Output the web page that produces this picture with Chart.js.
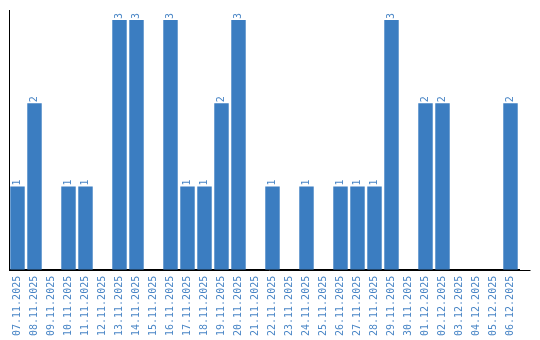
<!DOCTYPE html>
<html>
<head>
<meta charset="utf-8">
<script src="https://cdn.jsdelivr.net/npm/chart.js@4/dist/chart.umd.min.js"></script>
<style>
  html, body { margin: 0; padding: 0; background: #ffffff; }
  #wrap { width: 540px; height: 340px; position: relative; }
</style>
</head>
<body>
<div id="wrap"><canvas id="c"></canvas></div>
<script>
const categories = [
  "07.11.2025","08.11.2025","09.11.2025","10.11.2025","11.11.2025","12.11.2025",
  "13.11.2025","14.11.2025","15.11.2025","16.11.2025","17.11.2025","18.11.2025",
  "19.11.2025","20.11.2025","21.11.2025","22.11.2025","23.11.2025","24.11.2025",
  "25.11.2025","26.11.2025","27.11.2025","28.11.2025","29.11.2025","30.11.2025",
  "01.12.2025","02.12.2025","03.12.2025","04.12.2025","05.12.2025","06.12.2025"
];
const counts = [1,2,0,1,1,0,3,3,0,3,1,1,2,3,0,1,0,1,0,1,1,1,3,0,2,2,0,0,0,2];
const yMax = 3.12;

const BLUE = '#3b7dc1';
const LABEL_BLUE = '#4a86c6';
const FONT = '"DejaVu Sans Mono", monospace';

const valueLabels = {
  id: 'valueLabels',
  afterDatasetsDraw(chart) {
    const ctx = chart.ctx;
    const meta = chart.getDatasetMeta(0);
    ctx.save();
    ctx.fillStyle = LABEL_BLUE;
    ctx.font = '10px ' + FONT;
    ctx.textAlign = 'left';
    ctx.textBaseline = 'middle';
    meta.data.forEach((bar, i) => {
      const v = counts[i];
      if (!v) return;
      ctx.save();
      ctx.translate(bar.x, bar.y - 1);
      ctx.rotate(-Math.PI / 2);
      ctx.fillText(String(v), 0, 0);
      ctx.restore();
    });
    ctx.restore();
  },
  afterDraw(chart) {
    const ctx = chart.ctx;
    const a = chart.chartArea;
    ctx.save();
    ctx.strokeStyle = '#000000';
    ctx.lineWidth = 1;
    ctx.beginPath();
    const y = Math.round(a.bottom) + 0.5;
    ctx.moveTo(a.left, y);
    ctx.lineTo(chart.width - 9.5, y);
    ctx.stroke();
    ctx.restore();
  }
};

new Chart(document.getElementById('c'), {
  type: 'bar',
  data: {
    labels: categories,
    datasets: [{
      data: counts,
      backgroundColor: BLUE,
      borderWidth: 0,
      barPercentage: 0.85,
      categoryPercentage: 1.0
    }]
  },
  options: {
    responsive: true,
    maintainAspectRatio: false,
    animation: false,
    layout: { padding: { left: 9, right: 21, top: 10, bottom: -2 } },
    plugins: { legend: { display: false }, tooltip: { enabled: false } },
    scales: {
      x: {
        grid: { display: false, drawTicks: false },
        border: { display: true, color: '#000000', width: 1 },
        ticks: {
          autoSkip: false,
          maxRotation: 90,
          minRotation: 90,
          padding: 6,
          color: LABEL_BLUE,
          font: { family: FONT, size: 10 }
        }
      },
      y: {
        min: 0,
        max: yMax,
        grid: { display: false, drawTicks: false },
        border: { display: true, color: '#000000', width: 1 },
        ticks: { display: false }
      }
    }
  },
  plugins: [valueLabels]
});
</script>
</body>
</html>
